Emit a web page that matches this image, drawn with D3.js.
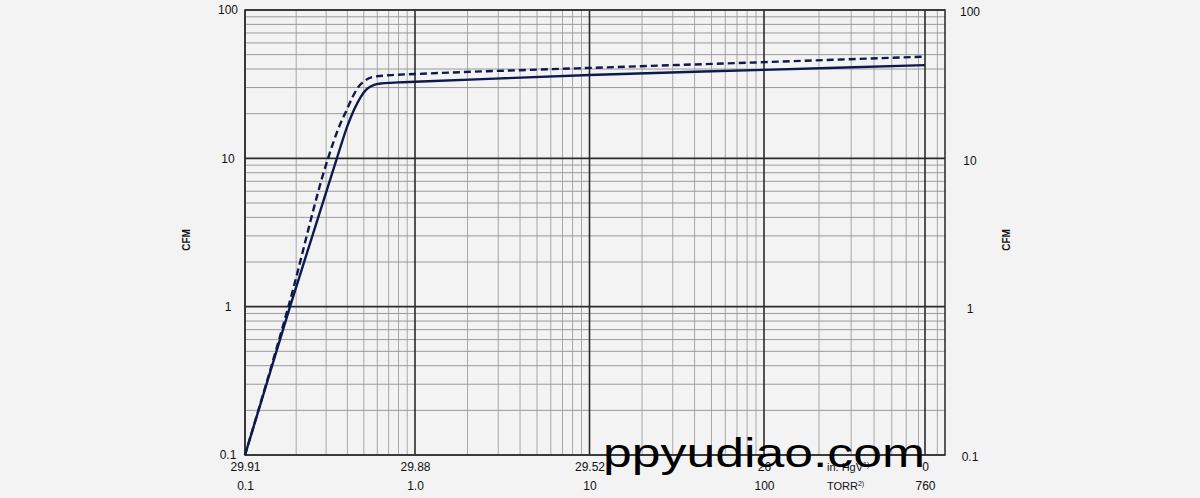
<!DOCTYPE html>
<html><head><meta charset="utf-8">
<script src="https://cdn.jsdelivr.net/npm/d3@7/dist/d3.min.js"></script>
<style>
html,body{margin:0;padding:0;background:#f3f3f3;}
svg{display:block;font-family:"Liberation Sans",Arial,sans-serif;}
</style></head>
<body>
<svg id="c" width="1200" height="498"></svg>
<script>
// ---- data ----
const torrTicks = [0.1, 1, 10, 100, 760];
const torrLabels = ["0.1", "1.0", "10", "100", "760"];
const hgLabels = ["29.91", "29.88", "29.52", "26", "0"];
const cfmTicks = [0.1, 1, 10, 100];
const cfmLabels = ["0.1", "1", "10", "100"];
const xMinor = [0.2,0.3,0.4,0.5,0.6,0.7,0.8,0.9,2,3,4,5,6,7,8,9,20,30,40,50,60,70,80,90,200,300,400,500,600,700,900];
const yMinor = [0.2,0.3,0.4,0.5,0.6,0.7,0.8,0.9,2,3,4,5,6,7,8,9,20,30,40,50,60,70,80,90];
// solid curve: [torr, cfm]
const solidSeries = [[0.1,0.1],[0.184,1],[0.347,10],[0.40,16.5],[0.44,21.5],[0.48,26],[0.52,29.3],[0.57,31.2],[0.64,32],[0.8,32.5],[1,32.8],[10,36.5],[100,39.5],[760,42.5]];
// dashed curve
const dashedSeries = [[0.1,0.1],[0.18,1],[0.308,10],[0.355,16],[0.395,21],[0.43,26],[0.462,30],[0.5,33],[0.56,35.3],[0.7,36.3],[1,37],[10,40.7],[100,44.5],[760,48.5]];

// ---- scales ----
const x = d3.scaleLog().domain([0.1,1,10,100,760,1000]).range([245,415,589.5,764,925,945]);
const y = d3.scaleLog().domain([0.1,100]).range([455,10]);
const svg = d3.select("#c");
const X0 = x(0.1), X1 = x(1000), Y0 = y(0.1), Y1 = y(100);

// minor grid
svg.append("g").selectAll("line").data(xMinor).join("line")
  .attr("x1",d=>x(d)).attr("x2",d=>x(d)).attr("y1",Y1).attr("y2",Y0)
  .attr("stroke","#a8a8a8").attr("stroke-width",1);
svg.append("g").selectAll("line").data(yMinor).join("line")
  .attr("x1",X0).attr("x2",X1).attr("y1",d=>y(d)).attr("y2",d=>y(d))
  .attr("stroke","#9a9a9a").attr("stroke-width",1);
// major grid
svg.append("g").selectAll("line").data(torrTicks).join("line")
  .attr("x1",d=>x(d)).attr("x2",d=>x(d)).attr("y1",Y1).attr("y2",Y0)
  .attr("stroke","#2a2a2a").attr("stroke-width",1.6);
svg.append("g").selectAll("line").data(cfmTicks).join("line")
  .attr("x1",X0).attr("x2",X1).attr("y1",d=>y(d)).attr("y2",d=>y(d))
  .attr("stroke","#2a2a2a").attr("stroke-width",1.6);
// border
svg.append("rect").attr("x",X0).attr("y",Y1).attr("width",X1-X0).attr("height",Y0-Y1)
  .attr("fill","none").attr("stroke","#333").attr("stroke-width",1.6);

// curves
const line = d3.line().x(d=>x(d[0])).y(d=>y(d[1])).curve(d3.curveMonotoneX);
svg.append("path").datum(solidSeries).attr("d",line)
  .attr("fill","none").attr("stroke","#0e1a4e").attr("stroke-width",2.4);
svg.append("path").datum(dashedSeries).attr("d",line)
  .attr("fill","none").attr("stroke","#0e1a4e").attr("stroke-width",2.4)
  .attr("stroke-dasharray","7,4");

// y axes (labels only)
const fmtY = d => cfmLabels[cfmTicks.indexOf(d)];
const yl = svg.append("g").attr("transform","translate(228,0)")
  .call(d3.axisLeft(y).tickValues(cfmTicks).tickFormat(fmtY).tickSize(0).tickPadding(0));
const yr = svg.append("g").attr("transform","translate(970,2)")
  .call(d3.axisRight(y).tickValues(cfmTicks).tickFormat(fmtY).tickSize(0).tickPadding(0));
[yl,yr].forEach(g=>{
  g.select(".domain").remove();
  g.selectAll("text").attr("text-anchor","middle").attr("font-size",12)
    .attr("font-family","Liberation Sans, Arial, sans-serif").attr("fill","#111");
});

// x axes (two rows)
const xa1 = svg.append("g").attr("transform","translate(0,467)")
  .call(d3.axisBottom(x).tickValues(torrTicks).tickFormat((d,i)=>hgLabels[i]).tickSize(0).tickPadding(-5));
const xa2 = svg.append("g").attr("transform","translate(0,486)")
  .call(d3.axisBottom(x).tickValues(torrTicks).tickFormat((d,i)=>torrLabels[i]).tickSize(0).tickPadding(-5));
[xa1,xa2].forEach(g=>{
  g.select(".domain").remove();
  g.selectAll("text").attr("font-size",12).attr("font-family","Liberation Sans, Arial, sans-serif")
    .attr("fill","#111").attr("dy","0.32em").attr("y",0);
});

// unit labels
const u1 = svg.append("text").attr("x",827).attr("y",471).attr("font-size",11).attr("fill","#111").text("in. HgV");
u1.append("tspan").attr("font-size",7).attr("dy",-4).text("1)");
const u2 = svg.append("text").attr("x",827).attr("y",490).attr("font-size",11).attr("fill","#111").text("TORR");
u2.append("tspan").attr("font-size",7).attr("dy",-4).text("2)");

// CFM titles
svg.append("text").attr("transform","translate(190,240) rotate(-90)").attr("text-anchor","middle")
  .attr("font-size",10).attr("font-weight","bold").attr("fill","#111").text("CFM");
svg.append("text").attr("transform","translate(1010,240) rotate(-90)").attr("text-anchor","middle")
  .attr("font-size",10).attr("font-weight","bold").attr("fill","#111").text("CFM");

// watermark
svg.append("text").attr("x",603).attr("y",467).attr("font-size",40)
  .attr("font-family","Liberation Sans, Arial, sans-serif").attr("fill","#000")
  .attr("textLength",322).attr("lengthAdjust","spacingAndGlyphs").text("ppyudiao.com");
</script>
</body></html>
